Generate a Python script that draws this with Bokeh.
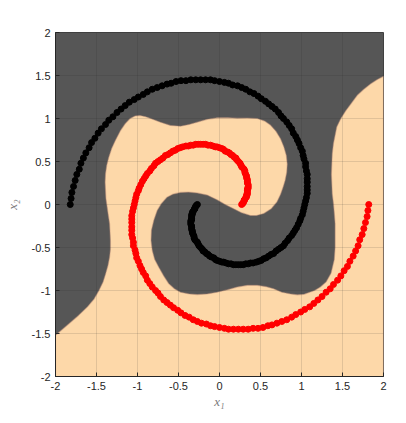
from bokeh.plotting import figure
from bokeh.models import FixedTicker
from bokeh.embed import file_html
from bokeh.resources import INLINE

# ---- data ----
tick_values = [-2.0, -1.5, -1.0, -0.5, 0.0, 0.5, 1.0, 1.5, 2.0]
tick_labels = ["-2", "-1.5", "-1", "-0.5", "0", "0.5", "1", "1.5", "2"]

red_x = [0.27, 0.28, 0.29, 0.30, 0.30, 0.31, 0.32, 0.33, 0.33, 0.34, 0.34, 0.34, 0.34, 0.35, 0.35, 0.35,
         0.34, 0.34, 0.34, 0.33, 0.33, 0.32, 0.31, 0.31, 0.30, 0.28, 0.27, 0.26, 0.25, 0.23, 0.21, 0.20,
         0.18, 0.16, 0.14, 0.12, 0.10, 0.07, 0.05, 0.03, 0.00, -0.03, -0.05, -0.08, -0.11, -0.14, -0.17, -0.20,
         -0.23, -0.26, -0.29, -0.32, -0.35, -0.38, -0.41, -0.45, -0.48, -0.51, -0.54, -0.57, -0.60, -0.63, -0.66, -0.69,
         -0.72, -0.75, -0.78, -0.80, -0.83, -0.85, -0.88, -0.90, -0.92, -0.94, -0.96, -0.98, -0.99, -1.01, -1.02, -1.03,
         -1.04, -1.05, -1.06, -1.07, -1.07, -1.07, -1.07, -1.07, -1.07, -1.06, -1.05, -1.05, -1.03, -1.02, -1.01, -0.99,
         -0.97, -0.95, -0.93, -0.90, -0.88, -0.85, -0.82, -0.78, -0.75, -0.72, -0.68, -0.64, -0.60, -0.56, -0.51, -0.47,
         -0.42, -0.37, -0.32, -0.27, -0.22, -0.16, -0.11, -0.06, 0.00, 0.06, 0.11, 0.17, 0.23, 0.29, 0.35, 0.41,
         0.47, 0.53, 0.59, 0.64, 0.70, 0.76, 0.82, 0.88, 0.93, 0.99, 1.04, 1.10, 1.15, 1.20, 1.25, 1.30,
         1.35, 1.39, 1.44, 1.48, 1.52, 1.56, 1.59, 1.63, 1.66, 1.69, 1.71, 1.74, 1.76, 1.78, 1.80, 1.81, 1.82]
red_y = [0.00, 0.01, 0.02, 0.04, 0.05, 0.06, 0.08, 0.09, 0.11, 0.12, 0.14, 0.16, 0.18, 0.19, 0.21, 0.23,
         0.25, 0.27, 0.29, 0.31, 0.33, 0.35, 0.37, 0.39, 0.41, 0.43, 0.44, 0.46, 0.48, 0.50, 0.52, 0.54,
         0.55, 0.57, 0.58, 0.60, 0.61, 0.62, 0.64, 0.65, 0.66, 0.67, 0.67, 0.68, 0.69, 0.69, 0.70, 0.70,
         0.70, 0.70, 0.70, 0.69, 0.69, 0.68, 0.68, 0.67, 0.66, 0.65, 0.63, 0.62, 0.60, 0.58, 0.57, 0.54,
         0.52, 0.50, 0.48, 0.45, 0.42, 0.39, 0.36, 0.33, 0.30, 0.27, 0.23, 0.19, 0.16, 0.12, 0.08, 0.04,
         0.00, -0.04, -0.08, -0.13, -0.17, -0.21, -0.26, -0.30, -0.35, -0.39, -0.44, -0.48, -0.53, -0.57, -0.62, -0.66,
         -0.71, -0.75, -0.79, -0.83, -0.88, -0.92, -0.96, -1.00, -1.03, -1.07, -1.11, -1.14, -1.17, -1.20, -1.23, -1.26,
         -1.29, -1.31, -1.34, -1.36, -1.38, -1.39, -1.41, -1.42, -1.43, -1.44, -1.45, -1.45, -1.45, -1.45, -1.45, -1.44,
         -1.44, -1.43, -1.41, -1.40, -1.38, -1.36, -1.34, -1.31, -1.28, -1.25, -1.22, -1.19, -1.15, -1.11, -1.07, -1.02,
         -0.98, -0.93, -0.88, -0.83, -0.77, -0.72, -0.66, -0.60, -0.54, -0.48, -0.41, -0.35, -0.28, -0.21, -0.14, -0.07, 0.00]

black_x = [-0.27, -0.28, -0.29, -0.30, -0.30, -0.31, -0.32, -0.33, -0.33, -0.34, -0.34, -0.34, -0.34, -0.35, -0.35, -0.35,
           -0.34, -0.34, -0.34, -0.33, -0.33, -0.32, -0.31, -0.31, -0.30, -0.28, -0.27, -0.26, -0.25, -0.23, -0.21, -0.20,
           -0.18, -0.16, -0.14, -0.12, -0.10, -0.07, -0.05, -0.03, 0.00, 0.03, 0.05, 0.08, 0.11, 0.14, 0.17, 0.20,
           0.23, 0.26, 0.29, 0.32, 0.35, 0.38, 0.41, 0.45, 0.48, 0.51, 0.54, 0.57, 0.60, 0.63, 0.66, 0.69,
           0.72, 0.75, 0.78, 0.80, 0.83, 0.85, 0.88, 0.90, 0.92, 0.94, 0.96, 0.98, 0.99, 1.01, 1.02, 1.03,
           1.04, 1.05, 1.06, 1.07, 1.07, 1.07, 1.07, 1.07, 1.07, 1.06, 1.05, 1.05, 1.03, 1.02, 1.01, 0.99,
           0.97, 0.95, 0.93, 0.90, 0.88, 0.85, 0.82, 0.78, 0.75, 0.72, 0.68, 0.64, 0.60, 0.56, 0.51, 0.47,
           0.42, 0.37, 0.32, 0.27, 0.22, 0.16, 0.11, 0.06, 0.00, -0.06, -0.11, -0.17, -0.23, -0.29, -0.35, -0.41,
           -0.47, -0.53, -0.59, -0.64, -0.70, -0.76, -0.82, -0.88, -0.93, -0.99, -1.04, -1.10, -1.15, -1.20, -1.25, -1.30,
           -1.35, -1.39, -1.44, -1.48, -1.52, -1.56, -1.59, -1.63, -1.66, -1.69, -1.71, -1.74, -1.76, -1.78, -1.80, -1.81, -1.82]
black_y = [0.00, -0.01, -0.02, -0.04, -0.05, -0.06, -0.08, -0.09, -0.11, -0.12, -0.14, -0.16, -0.18, -0.19, -0.21, -0.23,
           -0.25, -0.27, -0.29, -0.31, -0.33, -0.35, -0.37, -0.39, -0.41, -0.43, -0.44, -0.46, -0.48, -0.50, -0.52, -0.54,
           -0.55, -0.57, -0.58, -0.60, -0.61, -0.62, -0.64, -0.65, -0.66, -0.67, -0.67, -0.68, -0.69, -0.69, -0.70, -0.70,
           -0.70, -0.70, -0.70, -0.69, -0.69, -0.68, -0.68, -0.67, -0.66, -0.65, -0.63, -0.62, -0.60, -0.58, -0.57, -0.54,
           -0.52, -0.50, -0.48, -0.45, -0.42, -0.39, -0.36, -0.33, -0.30, -0.27, -0.23, -0.19, -0.16, -0.12, -0.08, -0.04,
           0.00, 0.04, 0.08, 0.13, 0.17, 0.21, 0.26, 0.30, 0.35, 0.39, 0.44, 0.48, 0.53, 0.57, 0.62, 0.66,
           0.71, 0.75, 0.79, 0.83, 0.88, 0.92, 0.96, 1.00, 1.03, 1.07, 1.11, 1.14, 1.17, 1.20, 1.23, 1.26,
           1.29, 1.31, 1.34, 1.36, 1.38, 1.39, 1.41, 1.42, 1.43, 1.44, 1.45, 1.45, 1.45, 1.45, 1.45, 1.44,
           1.44, 1.43, 1.41, 1.40, 1.38, 1.36, 1.34, 1.31, 1.28, 1.25, 1.22, 1.19, 1.15, 1.11, 1.07, 1.02,
           0.98, 0.93, 0.88, 0.83, 0.77, 0.72, 0.66, 0.60, 0.54, 0.48, 0.41, 0.35, 0.28, 0.21, 0.14, 0.07, 0.00]

# decision region of the red class (the rest of the square is the black class)
region_x = [-2.00, -2.00, -1.84, -1.72, -1.61, -1.53, -1.47, -1.42, -1.39, -1.36, -1.34, -1.33, -1.33, -1.335,
            -1.34, -1.355, -1.37, -1.385, -1.39, -1.395, -1.39, -1.375, -1.35, -1.315, -1.27, -1.207, -1.15,
            -1.09, -1.03, -0.97, -0.90, -0.84, -0.72, -0.60, -0.476, -0.37, -0.272, -0.15, -0.03, 0.10, 0.215,
            0.34, 0.46, 0.55, 0.62, 0.69, 0.744, 0.785, 0.815, 0.826, 0.82, 0.80, 0.775, 0.745, 0.70, 0.63,
            0.54, 0.45, 0.378, 0.27, 0.174, 0.07, -0.03, -0.15, -0.272, -0.38, -0.476, -0.57, -0.64, -0.71,
            -0.76, -0.80, -0.83, -0.835, -0.82, -0.79, -0.74, -0.68, -0.62, -0.55, -0.476, -0.37, -0.27, -0.15,
            -0.03, 0.10, 0.215, 0.34, 0.46, 0.57, 0.66, 0.76, 0.866, 0.95, 1.03, 1.10, 1.16, 1.23, 1.30,
            1.36, 1.40, 1.41, 1.41, 1.41, 1.40, 1.39, 1.375, 1.37, 1.365, 1.37, 1.375, 1.39, 1.43, 1.48,
            1.54, 1.61, 1.68, 1.76, 1.84, 1.92, 2.00, 2.00]
region_y = [-2.00, -1.52, -1.39, -1.29, -1.19, -1.10, -1.00, -0.90, -0.81, -0.71, -0.61, -0.52, -0.42, -0.32,
            -0.225, -0.13, -0.03, 0.07, 0.163, 0.26, 0.357, 0.455, 0.55, 0.65, 0.744, 0.86, 0.94,
            1.00, 1.03, 1.035, 1.02, 1.00, 0.957, 0.92, 0.91, 0.93, 0.957, 0.99, 1.008, 1.01, 1.004,
            1.005, 1.00, 0.97, 0.925, 0.85, 0.764, 0.67, 0.57, 0.47, 0.376, 0.28, 0.20, 0.12, 0.03, -0.05,
            -0.105, -0.128, -0.128, -0.095, -0.05, 0.00, 0.055, 0.11, 0.135, 0.145, 0.14, 0.12, 0.085, 0.01,
            -0.07, -0.18, -0.30, -0.42, -0.535, -0.64, -0.73, -0.83, -0.92, -0.98, -1.02, -1.04, -1.047, -1.04,
            -1.02, -0.99, -0.96, -0.94, -0.94, -0.955, -0.98, -1.02, -1.04, -1.05, -1.045, -1.02, -1.00, -0.96, -0.90,
            -0.80, -0.64, -0.50, -0.36, -0.22, -0.10, 0.01, 0.125, 0.24, 0.35, 0.47, 0.59, 0.71, 0.90, 1.00,
            1.09, 1.18, 1.27, 1.34, 1.40, 1.45, 1.49, -2.00]

DARK = "#565656"
PEACH = "#FDD8A9"
AX = "#262626"

p = figure(width=398, height=415, x_range=(-2, 2), y_range=(-2, 2),
           output_backend="svg", toolbar_location=None,
           min_border_left=55, min_border_right=15, min_border_top=32, min_border_bottom=39)

p.background_fill_color = DARK
p.border_fill_color = "white"
p.outline_line_color = AX
p.outline_line_width = 1
p.outline_line_alpha = 0.8

p.patch(region_x, region_y, fill_color=PEACH, line_color="#b88c78", line_alpha=0.45,
        line_width=1.2, level="image")

p.scatter(black_x, black_y, size=6, fill_color="#000000", line_color="#000000")
p.scatter(red_x, red_y, size=6, fill_color="#ff0000", line_color="#ff0000")

overrides = {v: s for v, s in zip(tick_values, tick_labels)}
for ax in (p.xaxis[0], p.yaxis[0]):
    ax.ticker = FixedTicker(ticks=tick_values)
    ax.major_label_overrides = overrides
    ax.major_tick_in = 4
    ax.major_tick_out = 0
    ax.minor_tick_line_color = None
    ax.axis_line_color = AX
    ax.major_tick_line_color = AX
    ax.major_label_text_color = AX
    ax.major_label_text_font = "Liberation Sans"
    ax.major_label_text_font_size = "11px"
    ax.major_label_standoff = 5
    ax.axis_label_text_font = "Liberation Serif"
    ax.axis_label_text_font_style = "italic"
    ax.axis_label_text_font_size = "13px"
    ax.axis_label_text_color = "#7a7a7a"

p.xaxis.axis_label = "x₁"
p.yaxis.axis_label = "x₂"
p.xaxis.axis_label_standoff = 1
p.yaxis.axis_label_standoff = 9

for g in (p.xgrid[0], p.ygrid[0]):
    g.ticker = FixedTicker(ticks=tick_values)
    g.grid_line_color = AX
    g.grid_line_alpha = 0.13
    g.level = "underlay"

open("out.html", "w").write(file_html(p, INLINE))
